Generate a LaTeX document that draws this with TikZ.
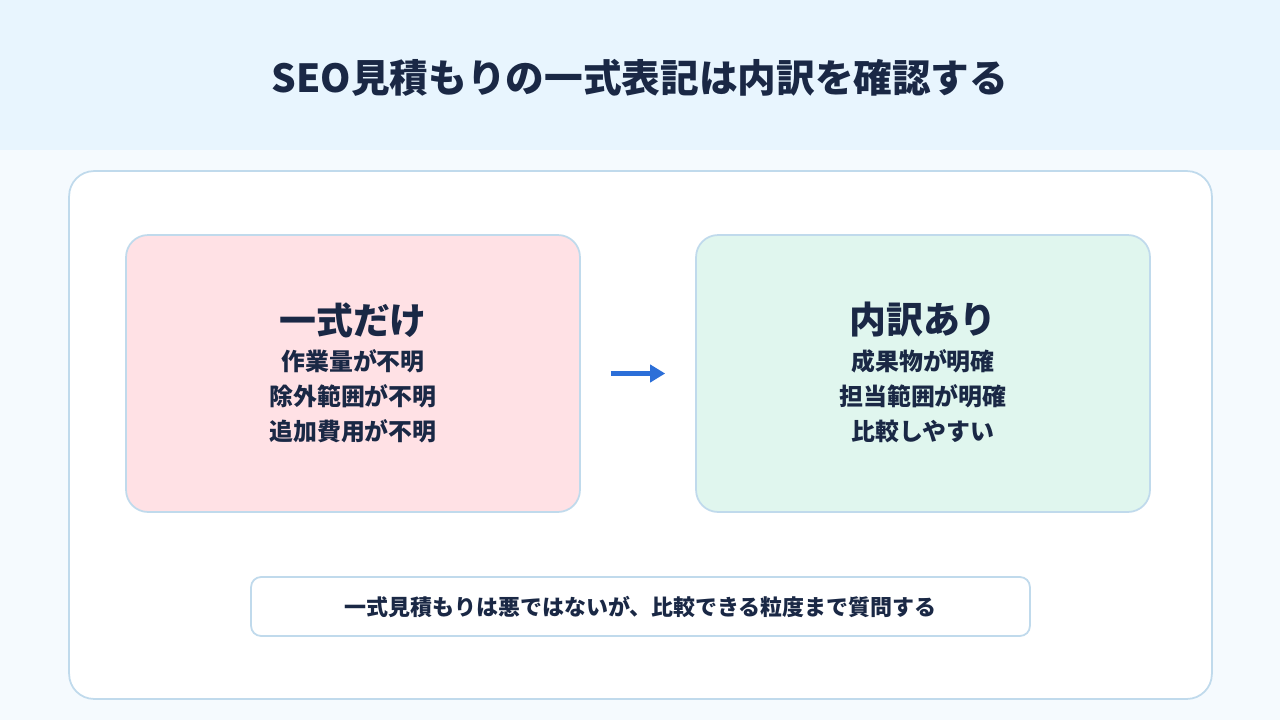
\documentclass[tikz,border=0pt]{standalone}
\usepackage{fontspec}
\setmainfont{Noto Sans CJK JP}
\usetikzlibrary{arrows.meta,positioning}
\definecolor{headbg}{HTML}{E8F5FE}
\definecolor{pagebg}{HTML}{F5FAFE}
\definecolor{edge}{HTML}{C0DAEC}
\definecolor{pinkbg}{HTML}{FFE1E5}
\definecolor{greenbg}{HTML}{E0F6EE}
\definecolor{ink}{HTML}{1A2845}
\definecolor{arrowblue}{HTML}{2C6FD8}
\tikzset{
  card/.style={draw=edge, line width=1pt, rounded corners=0.44cm, minimum width=9.08cm, minimum height=5.54cm},
  cardtitle/.style={text=ink, font=\bfseries\fontsize{21}{25}\selectfont},
  cardtext/.style={text=ink, align=center, font=\bfseries\fontsize{13.6}{19.8}\selectfont},
  flow/.style={arrowblue, line width=2.3pt, -{Triangle[length=0.3cm,width=0.34cm]}}
}
\begin{document}
\begin{tikzpicture}[x=0.02cm,y=-0.02cm]
\useasboundingbox (0,0) rectangle (1280,720);
\fill[pagebg] (0,0) rectangle (1280,720);
\fill[headbg] (0,0) rectangle (1280,150);
\node[text=ink, font=\bfseries\fontsize{22}{26}\selectfont] (title) at (640,78) {SEO見積もりの一式表記は内訳を確認する};
% main panel
\node[draw=edge, fill=white, line width=1pt, rounded corners=0.5cm, minimum width=22.86cm, minimum height=10.56cm] (panel) at (640.5,435) {};
\node[card, fill=pinkbg] (left) at (353,373.5) {};
\node[card, fill=greenbg] (right) at (923,373.5) {};
\node[cardtitle] (lefttitle) at (353,320) {一式だけ};
\node[cardtext, below=0cm of lefttitle] (lefttext) {作業量が不明\\除外範囲が不明\\追加費用が不明};
\node[cardtitle] (righttitle) at (923,320) {内訳あり};
\node[cardtext, below=0cm of righttitle] (righttext) {成果物が明確\\担当範囲が明確\\比較しやすい};
\draw[flow, shorten <=0.6cm, shorten >=0.6cm] (left) -- (right);
% note
\node[draw=edge, fill=white, line width=1pt, rounded corners=0.2cm, minimum width=15.58cm, minimum height=1.18cm, text=ink, font=\bfseries\fontsize{12.5}{15}\selectfont] (note) at (640.5,606.5) {一式見積もりは悪ではないが、比較できる粒度まで質問する};
\end{tikzpicture}
\end{document}
